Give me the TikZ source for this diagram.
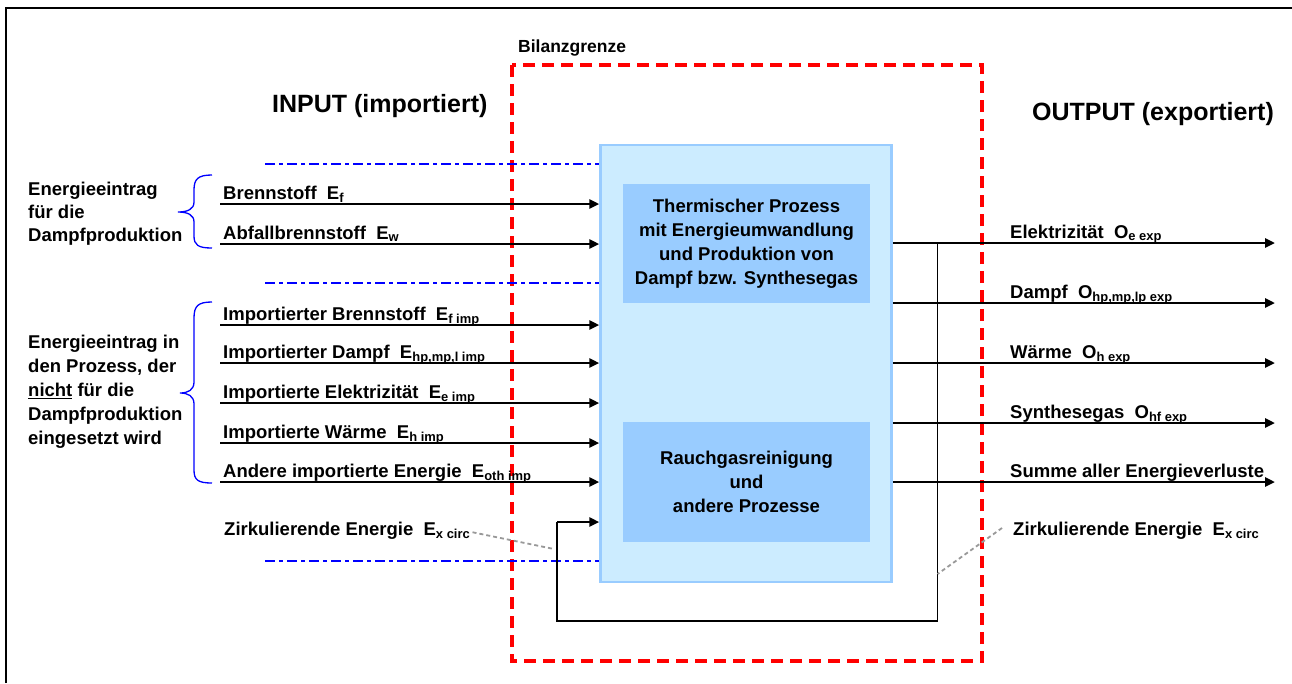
\documentclass[tikz,border=0pt]{standalone}
\usepackage{fontspec}
\setmainfont{Liberation Sans}
\usetikzlibrary{arrows.meta}
\definecolor{boxout}{RGB}{204,236,255}
\definecolor{boxedge}{RGB}{153,204,255}
\definecolor{boxin}{RGB}{153,204,255}
\definecolor{bred}{RGB}{255,0,0}
\definecolor{bblue}{RGB}{0,0,255}
\newcommand\sbs[1]{\textsubscript{#1}}
\begin{document}
\begin{tikzpicture}[x=1pt,y=-1pt,
  lbl/.style={font=\fontsize{18.5}{22}\selectfont\bfseries, anchor=base west, inner sep=0pt},
  title/.style={font=\fontsize{25}{30}\selectfont\bfseries, anchor=base west, inner sep=0pt},
  flow/.style={line width=2.8pt, -{Triangle[length=10pt,width=9pt]}},
  loopline/.style={line width=1.3pt},
  leader/.style={gray!80, line width=1.8pt, dash pattern=on 4pt off 3pt},
  limit/.style={bblue, line width=2.8pt, dash pattern=on 10pt off 4pt on 4pt off 4pt},
  boundary/.style={bred, line width=4pt, dash pattern=on 12pt off 7pt},
  procbox/.style={fill=boxin, minimum width=247pt, align=center, inner sep=0pt,
    font=\fontsize{18.5}{24}\selectfont\bfseries},
  groupbrace/.style={bblue, line width=1.3pt},
  grouptext/.style={font=\fontsize{18.5}{23}\selectfont\bfseries, anchor=north west, align=left, inner sep=0pt}
]
\useasboundingbox (0,0) rectangle (1292,683);
\fill[white] (0,0) rectangle (1292,683);
% frame
\draw[line width=2.2pt] (6,683) -- (6,8) -- (1292,8);

% boundary
\draw[boundary] (512,65) rectangle (982,661);
\node[lbl, font=\fontsize{17.5}{20}\selectfont\bfseries] (bil) at (518,52) {Bilanzgrenze};

% titles
\node[title] (tin) at (272,112) {INPUT (importiert)};
\node[title] (tout) at (1032,120) {OUTPUT (exportiert)};

% process boxes
\node[draw=boxedge, fill=boxout, line width=2.5pt, minimum width=291pt, minimum height=437pt, inner sep=0pt] (proc) at (746,363.5) {};
\node[procbox, minimum height=119pt] (therm) at (746.5,243.5)
  {Thermischer Prozess\\mit Energieumwandlung\\und Produktion von\\Dampf bzw. Synthesegas};
\node[procbox, minimum height=120pt] (rauch) at (746.5,482)
  {Rauchgasreinigung\\und\\andere Prozesse};

% blue limit lines
\coordinate (b1) at (265,164);
\coordinate (b2) at (265,283);
\coordinate (b3) at (265,561);
\draw[limit] (b1) -- (b1 -| proc.west);
\draw[limit] (b2) -- (b2 -| proc.west);
\draw[limit] (b3) -- (b3 -| proc.west);

% input arrows
\foreach \n/\y in {1/204,2/244,3/325,4/363,5/403,6/443,7/482}{
  \coordinate (in\n) at (220,\y);
  \draw[flow] (in\n) -- (in\n -| proc.west);
}
\node[lbl] (li1) at (223,199) {Brennstoff\ \ E\sbs{f}};
\node[lbl] (li2) at (223,239) {Abfallbrennstoff\ \ E\sbs{w}};
\node[lbl] (li3) at (223,320) {Importierter Brennstoff\ \ E\sbs{f imp}};
\node[lbl] (li4) at (223,358) {Importierter Dampf\ \ E\sbs{hp,mp,l imp}};
\node[lbl] (li5) at (223,398) {Importierte Elektrizität\ \ E\sbs{e imp}};
\node[lbl] (li6) at (223,438) {Importierte Wärme\ \ E\sbs{h imp}};
\node[lbl] (li7) at (223,477) {Andere importierte Energie\ \ E\sbs{oth imp}};

% output arrows
\foreach \n/\y in {1/243,2/303,3/363,4/423,5/482}{
  \coordinate (out\n) at (1275,\y);
  \draw[flow] (out\n -| proc.east) -- (out\n);
}
\node[lbl] (lo1) at (1010,238) {Elektrizität\ \ O\sbs{e exp}};
\node[lbl] (lo2) at (1010,298) {Dampf\ \ O\sbs{hp,mp,lp exp}};
\node[lbl] (lo3) at (1010,358) {Wärme\ \ O\sbs{h exp}};
\node[lbl] (lo4) at (1010,418) {Synthesegas\ \ O\sbs{hf exp}};
\node[lbl] (lo5) at (1010,477) {Summe aller Energieverluste};

% circulating energy loop
\coordinate (c1) at (937.6,243);
\coordinate (c2) at (937.6,621);
\coordinate (c3) at (557,621);
\coordinate (c4) at (557,522);
\draw[loopline] (c1) -- (c2) -- (c3) -- (c4);
\draw[flow] (c4) -- (c4 -| proc.west);
\node[lbl] (zl) at (224,535) {Zirkulierende Energie\ \ E\sbs{x circ}};
\node[lbl] (zr) at (1013,535) {Zirkulierende Energie\ \ E\sbs{x circ}};
\coordinate (zlend) at (554,549);
\coordinate (zrend) at (937.6,574);
\draw[leader] (zl.east) ++(2,2) -- (zlend);
\draw[leader] (1002,528) -- (zrend);

% braces
\draw[groupbrace] (212,175) .. controls (198,175) and (194,179) .. (194,190)
  -- (194,202) .. controls (194,209) and (188,212) .. (178,212)
  .. controls (188,212) and (194,215) .. (194,222)
  -- (194,236) .. controls (194,245) and (198,248) .. (212,248);
\draw[groupbrace] (212,302) .. controls (198,302) and (194,306) .. (194,318)
  -- (194,382) .. controls (194,390) and (188,393) .. (180,393)
  .. controls (188,393) and (194,396) .. (194,404)
  -- (194,470) .. controls (194,480) and (198,483) .. (212,483);

% group texts
\node[grouptext] (g1) at (28,182) {Energieeintrag\\für die\\Dampfproduktion};
\node[grouptext, font=\fontsize{18.5}{24}\selectfont\bfseries] (g2) at (28,335)
  {Energieeintrag in\\den Prozess, der\\\underline{nicht} für die\\Dampfproduktion\\eingesetzt wird};
\end{tikzpicture}
\end{document}
